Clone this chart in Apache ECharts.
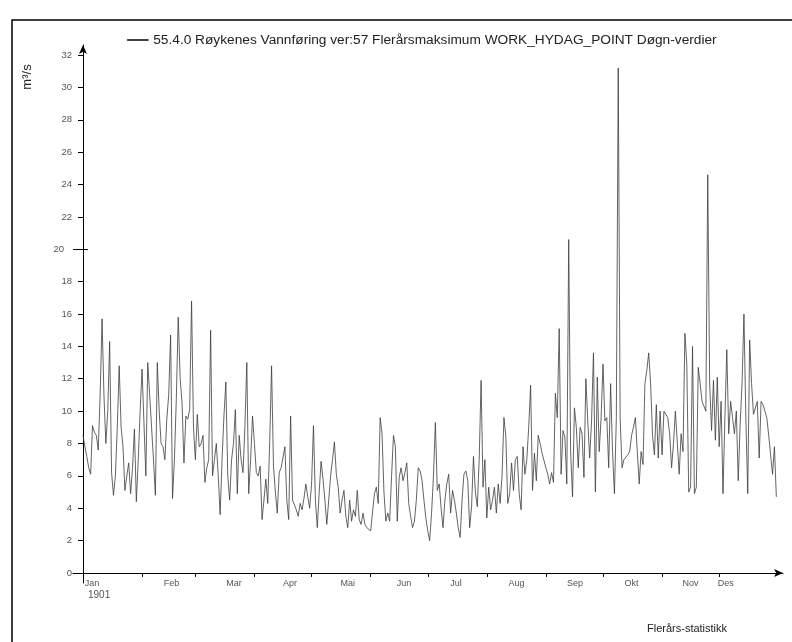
<!DOCTYPE html>
<html>
<head>
<meta charset="utf-8">
<script src="https://cdn.jsdelivr.net/npm/echarts@6/dist/echarts.min.js"></script>
<style>
html,body{margin:0;padding:0;background:#fff;}
#chart{width:792px;height:642px;}
</style>
</head>
<body>
<div id="chart"></div>
<script>
// ---- Data (daily values, m3/s), one array per month of 1901 ----
const jan = [8.5,7.8,7.2,6.5,6.1,9.1,8.7,8.5,7.6,11,15.7,11,8,10,14.3,6.2,4.8,6,9,12.8,9,7.8,5.1,6,6.8,4.9,6.5,8.9,4.4,7,10];
const feb = [12.6,9.3,6,13,11,9,7,4.8,13,10,8,7.8,7,9.5,11,14.7,4.6,7,10.8,15.8,12,10.5,6.8,9.7,9.5,10.1,16.8,9];
const mar = [7,9.8,7.8,8,8.5,5.6,6.5,7,15,6,7,8,6,3.6,7,9.7,11.8,6,4.5,7,8,10.1,4.9,8.5,7,6.2,9,13,4.9,7,9.7];
const apr = [8,6.2,6,6.6,3.3,4.5,5.8,4.3,8,12.8,6.6,5,3.7,6.2,6.5,6.6,7.8,4.5,3.3,9.7,4.5,4.2,3.9,3.5,4.3,3.9,4.6,5.5,4.7,4];
const mai = [5.5,9.1,4.5,2.8,5,6.9,5.8,4.5,3,4.5,6,7,8.1,6.1,5.3,3.7,4.5,5.1,3.5,2.8,4.5,3.2,3.9,3.5,5.1,3.3,3,3.7,3,2.8,2.7];
const jun = [2.6,2.5,4.9,5.3,4.3,9.6,8.6,5,3.2,3.7,3.2,6,8.5,7.8,3.2,5.9,6.5,5.7,6.2,6.8,4.3,3.5,2.8,3.2,4.5,6.5,6.3,5.7,4.5,3.4];
const jul = [2.6,2,3.7,6,9.3,5.1,5.5,4,2.8,4.5,5.5,6.1,3.7,5.1,4.5,3.7,2.8,2.2,4.5,6.1,6.3,5.7,2.8,4.1,7.2,5,4.1,7,11.9,5.3,7];
const aug = [3.4,5.3,3.9,4.5,5.3,3.7,5.5,4.3,6,9.6,8.4,4.3,4.9,6.8,5.1,7,7.2,4.9,3.9,7.8,6.1,7,9,11.6,5.1,7.4,5.7,8.5,8,7.4,7.5];
const sep = [6.5,6.1,5.5,6.2,5.6,11.1,9.6,15.1,6.1,8.8,8.4,5.5,20.6,7.5,4.7,10.2,9,6.5,9,8.6,5.9,12,9.4,7.1,9.4,13.6,5,12.1,7.5,9.6];
const okt = [12.9,9.4,9.6,6.5,11.7,7.5,4.9,9.6,31.2,9.5,6.5,7,7.1,7.3,7.5,8.5,9,9.6,7.5,5.5,7.5,6.7,11.7,12.5,13.6,11.7,8.5,7.3,10.4,7.1,10];
const nov = [7.3,10,9.8,9.6,8.6,6.5,8,10,10,6.1,8.6,7.5,14.8,12.9,5,5.3,14,4.9,5.3,12.7,11.7,10.6,10.3,10,24.6,11.7,8.8,11.9,8.2,12.1];
const des = [7.8,10.6,4.9,9.6,13.8,8.6,10.6,9.6,8.6,10,5.7,9.2,11.7,16,9.6,4.9,14.4,11.7,9.8,10.2,10.6,7.1,10.6,10.4,10,9.6,8.5,7.3,6.1,7.8,4.7];

const monthNames = ['Jan','Feb','Mar','Apr','Mai','Jun','Jul','Aug','Sep','Okt','Nov','Des'];
const monthStartDays = [0,31,59,90,120,151,181,212,243,273,304,334];
const monthLabelDays = [4.7,46.5,79.3,108.7,139,168.5,195.8,227.6,258.3,288,318.9,337.5];
const yTickValues = [0,2,4,6,8,10,12,14,16,18,20,22,24,26,28,30,32];
const majorYTick = 20;
const yearText = '1901';
const seriesName = '55.4.0 Røykenes Vannføring ver:57 Flerårsmaksimum WORK_HYDAG_POINT Døgn-verdier';
const unitText = 'm³/s';
const footerText = 'Flerårs-statistikk';

// ---- Build ----
const daily = [].concat(jan,feb,mar,apr,mai,jun,jul,aug,sep,okt,nov,des);
const seriesData = daily.map((v,i)=>[i,v]);

const chart = echarts.init(document.getElementById('chart'), null, {renderer:'canvas'});
const FONT = 'Liberation Sans, Arial, sans-serif';
const yMin = -0.62, yMax = 32.62;

function extraY(inside, len){
  return {
    type:'value', min:yMin, max:yMax, position:'left', offset:-10,
    axisLine:{show:false, onZero:false},
    axisLabel:{show:false},
    splitLine:{show:false},
    axisTick:{show:true, inside:inside, length:len, customValues:[majorYTick], lineStyle:{color:'#000',width:1}}
  };
}

chart.setOption({
  animation:false,
  backgroundColor:'#fff',
  textStyle:{fontFamily:FONT},
  grid:{left:73, right:9, top:45, bottom:59, containLabel:false},
  legend:{
    left:127, top:33, padding:0,
    icon:'rect', itemWidth:21, itemHeight:1,
    itemStyle:{color:'#000', borderColor:'#000', borderWidth:0.5},
    lineStyle:{color:'#000', width:1},
    textStyle:{fontSize:13.7, color:'#222', fontFamily:FONT},
    data:[seriesName]
  },
  xAxis:[{
    type:'value', min:-5.25, max:367.5,
    axisLine:{onZero:true, lineStyle:{color:'#000', width:1}, symbol:['none','arrow'], symbolSize:[6,9]},
    axisTick:{show:true, length:4, customValues:monthStartDays, lineStyle:{color:'#000'}},
    axisLabel:{
      customValues:monthLabelDays, fontSize:9, color:'#555', margin:-4,
      formatter:function(v){
        let best=0, bd=1e9;
        monthLabelDays.forEach((d,i)=>{const dd=Math.abs(d-v); if(dd<bd){bd=dd;best=i;}});
        return monthNames[best];
      }
    },
    splitLine:{show:false}
  }],
  yAxis:[{
    type:'value', min:yMin, max:yMax, position:'left',
    axisLine:{onZero:true, lineStyle:{color:'#000', width:1}, symbol:['none','arrow'], symbolSize:[6,9]},
    axisTick:{show:true, length:5, customValues:yTickValues.filter(v=>v!==majorYTick), lineStyle:{color:'#000'}},
    axisLabel:{
      customValues:yTickValues, fontSize:9.5, color:'#555', margin:1,
      formatter:function(v){ return v===majorYTick ? '{m|'+v+'}' : String(v); },
      rich:{m:{fontSize:9.5, color:'#555', padding:[0,8,0,0]}}
    },
    splitLine:{show:false}
  }, extraY(false,10), extraY(true,5)],
  series:[{
    name:seriesName, type:'line', xAxisIndex:0, yAxisIndex:0,
    data:seriesData, showSymbol:false, symbol:'none',
    color:'#000',
    lineStyle:{color:'#3c3c3c', width:0.8},
    itemStyle:{color:'#000'}
  }],
  graphic:[
    {type:'rect', silent:true, shape:{x:12, y:20, width:820, height:700}, style:{fill:'none', stroke:'#000', lineWidth:1.5}},
    {type:'text', silent:true, x:27, y:77, rotation:Math.PI/2, style:{text:unitText, font:'13px '+FONT, fill:'#222', align:'center', verticalAlign:'middle'}},
    {type:'text', silent:true, x:88, y:590, style:{text:yearText, font:'10px '+FONT, fill:'#555', align:'left', verticalAlign:'top'}},
    {type:'text', silent:true, x:647, y:623, style:{text:footerText, font:'11px '+FONT, fill:'#222', align:'left', verticalAlign:'top'}}
  ]
});
</script>
</body>
</html>
